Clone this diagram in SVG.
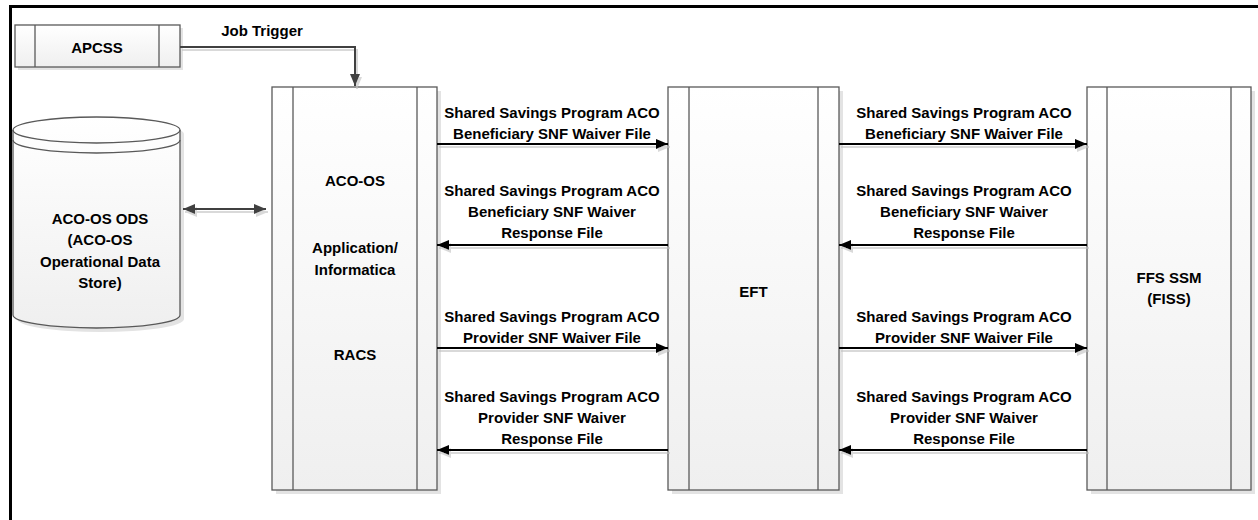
<svg xmlns="http://www.w3.org/2000/svg" width="1258" height="520" viewBox="0 0 1258 520">
<defs>
<linearGradient id="boxFill" x1="0" y1="0" x2="0" y2="1">
<stop offset="0" stop-color="#ffffff"/>
<stop offset="1" stop-color="#efefef"/>
</linearGradient>
<marker id="ah" viewBox="0 0 12 10" refX="12" refY="5" markerWidth="12" markerHeight="10" markerUnits="userSpaceOnUse" orient="auto-start-reverse">
<path d="M0,0 L12,5 L0,10 Z" fill="#000"/>
</marker>
<marker id="ahg" viewBox="0 0 12 10" refX="12" refY="5" markerWidth="12" markerHeight="10" markerUnits="userSpaceOnUse" orient="auto-start-reverse">
<path d="M0,0 L12,5 L0,10 Z" fill="#404040"/>
</marker>
<filter id="sh" x="-5%" y="-20%" width="110%" height="160%">
<feDropShadow dx="2" dy="3" stdDeviation="0.6" flood-color="#bfbfbf" flood-opacity="0.6"/>
</filter>
</defs>
<style>
text{font-family:"Liberation Sans",Arial,sans-serif;font-weight:bold;font-size:15px;fill:#000;text-anchor:middle}
.box{fill:url(#boxFill);stroke:#595959;stroke-width:1.3}
.shadow{fill:#e3e3e3}
.inner{stroke:#595959;stroke-width:1.3}
.flow{stroke:#000;stroke-width:2;fill:none;marker-end:url(#ah)}
.ctl{stroke:#404040;stroke-width:2;fill:none}
</style>
<rect x="10.5" y="6.5" width="1300" height="600" fill="none" stroke="#000" stroke-width="3"/>

<g id="apcss">
<rect class="shadow" x="18" y="28" width="165" height="42"/>
<rect class="box" x="15" y="25" width="165" height="42"/>
<line class="inner" x1="35" y1="25" x2="35" y2="67"/>
<line class="inner" x1="159" y1="25" x2="159" y2="67"/>
<text x="97" y="53">APCSS</text>
</g>

<g id="ods">
<path class="shadow" d="M17,134 A83.5,13 0 0 1 184,134 L184,319 A83.5,13 0 0 1 17,319 Z"/>
<path class="box" d="M13,130 A83.5,13 0 0 1 180,130 L180,315 A83.5,13 0 0 1 13,315 Z"/>
<path d="M13,130 A83.5,13 0 0 0 180,130" fill="none" stroke="#595959" stroke-width="1.3"/>
<path d="M13,140 A83.5,13 0 0 0 180,140" fill="none" stroke="#595959" stroke-width="1.3"/>
<text x="100" y="224">ACO-OS ODS</text>
<text x="100" y="245">(ACO-OS</text>
<text x="100" y="267">Operational Data</text>
<text x="100" y="288">Store)</text>
</g>

<g id="acoos">
<rect class="shadow" x="276" y="91" width="165" height="403"/>
<rect class="box" x="272" y="87" width="165" height="403"/>
<line class="inner" x1="293" y1="87" x2="293" y2="490"/>
<line class="inner" x1="417" y1="87" x2="417" y2="490"/>
<text x="355" y="186">ACO-OS</text>
<text x="355" y="253">Application/</text>
<text x="355" y="275">Informatica</text>
<text x="355" y="360">RACS</text>
</g>

<g id="eft">
<rect class="shadow" x="672" y="91" width="171" height="403"/>
<rect class="box" x="668" y="87" width="171" height="403"/>
<line class="inner" x1="689" y1="87" x2="689" y2="490"/>
<line class="inner" x1="818" y1="87" x2="818" y2="490"/>
<text x="753.5" y="297">EFT</text>
</g>

<g id="ffs">
<rect class="shadow" x="1091" y="91" width="164" height="403"/>
<rect class="box" x="1087" y="87" width="164" height="403"/>
<line class="inner" x1="1107" y1="87" x2="1107" y2="490"/>
<line class="inner" x1="1231" y1="87" x2="1231" y2="490"/>
<text x="1169" y="283">FFS SSM</text>
<text x="1169" y="304">(FISS)</text>
</g>

<g id="connectors">
<g filter="url(#sh)">
<path class="ctl" d="M180,47 L355,47 L355,86" marker-end="url(#ahg)"/>
<line class="ctl" x1="183" y1="209" x2="266" y2="209" marker-start="url(#ahg)" marker-end="url(#ahg)"/>
<line class="flow" x1="437" y1="144" x2="668" y2="144"/>
<line class="flow" x1="668" y1="245" x2="437" y2="245"/>
<line class="flow" x1="437" y1="348" x2="668" y2="348"/>
<line class="flow" x1="668" y1="450" x2="437" y2="450"/>
<line class="flow" x1="839" y1="144" x2="1087" y2="144"/>
<line class="flow" x1="1087" y1="245" x2="839" y2="245"/>
<line class="flow" x1="839" y1="348" x2="1087" y2="348"/>
<line class="flow" x1="1087" y1="450" x2="839" y2="450"/>
</g>
<text x="262" y="36">Job Trigger</text>
<text x="552" y="118">Shared Savings Program ACO</text>
<text x="552" y="139">Beneficiary SNF Waiver File</text>
<text x="552" y="196">Shared Savings Program ACO</text>
<text x="552" y="217">Beneficiary SNF Waiver</text>
<text x="552" y="238">Response File</text>
<text x="552" y="322">Shared Savings Program ACO</text>
<text x="552" y="343">Provider SNF Waiver File</text>
<text x="552" y="402">Shared Savings Program ACO</text>
<text x="552" y="423">Provider SNF Waiver</text>
<text x="552" y="444">Response File</text>
<text x="964" y="118">Shared Savings Program ACO</text>
<text x="964" y="139">Beneficiary SNF Waiver File</text>
<text x="964" y="196">Shared Savings Program ACO</text>
<text x="964" y="217">Beneficiary SNF Waiver</text>
<text x="964" y="238">Response File</text>
<text x="964" y="322">Shared Savings Program ACO</text>
<text x="964" y="343">Provider SNF Waiver File</text>
<text x="964" y="402">Shared Savings Program ACO</text>
<text x="964" y="423">Provider SNF Waiver</text>
<text x="964" y="444">Response File</text>
</g>
</svg>
